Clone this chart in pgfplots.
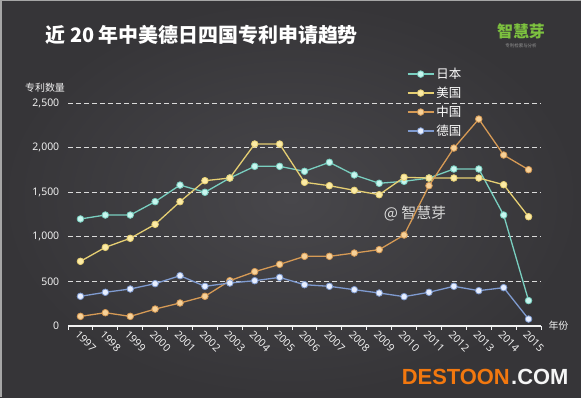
\documentclass[border=0pt]{standalone}
\usepackage{pgfplots}
\pgfplotsset{compat=1.18}
\usepackage{fontspec}
\setmainfont{Noto Sans}
\newfontfamily\cjk{Noto Sans CJK SC}
\newfontfamily\wm{Liberation Sans}
\definecolor{bg}{HTML}{363538}
\definecolor{bgc}{HTML}{48474B}
\definecolor{tealL}{HTML}{79CFC0}
\definecolor{tealF}{HTML}{C8F6EF}
\definecolor{yelL}{HTML}{E6CF73}
\definecolor{yelF}{HTML}{FCEBA6}
\definecolor{orL}{HTML}{D69A55}
\definecolor{orF}{HTML}{F7D198}
\definecolor{blL}{HTML}{7F9BD0}
\definecolor{blF}{HTML}{E8EFFF}
\definecolor{logo}{HTML}{7DC23F}
\definecolor{wmor}{HTML}{F2780F}
\begin{document}
\begin{tikzpicture}[x=1bp,y=1bp]
\useasboundingbox (0,0) rectangle (581,397);
\shade[inner color=bgc, outer color=bg] (0,0) rectangle (581,397);
\draw[gray!70, line width=1.5bp] (0.75,0) -- (0.75,396.25) -- (581,396.25);
\node[anchor=west, text=white, font=\cjk\bfseries\fontsize{20}{24}\selectfont] at (42,362) {近 20 年中美德日四国专利申请趋势};
\node[text=logo, font=\cjk\bfseries\fontsize{16}{19}\selectfont] at (521,366) {智慧芽};
\node[text=gray!80, font=\cjk\fontsize{4.5}{5}\selectfont] at (521,351) {专利检索与分析};
\node[text=white!90!gray, font=\cjk\fontsize{10}{12}\selectfont] at (45,309) {专利数量};
\node[text=white!70!gray, font=\cjk\fontsize{15}{18}\selectfont] at (415,184) {@ 智慧芽};
\node[text=white!90!gray, font=\cjk\fontsize{10}{12}\selectfont, anchor=west] at (545,71) {年份};
\begin{axis}[
  at={(68bp,71bp)}, anchor=south west,
  scale only axis, width=473bp, height=223bp,
  xmin=1996.5, xmax=2015.5, ymin=0, ymax=2500,
  clip=false,
  axis x line*=bottom, axis y line*=left,
  x axis line style={-, draw=white!88!gray, line width=1.2bp},
  y axis line style={draw=none},
  xtick={1997,...,2015},
  major x tick style={draw=none},
  minor xtick={1996.5,1997.5,...,2015.5},
  minor x tick style={draw=white!88!gray, line width=1bp},
  minor tick length=4bp,
  tick align=outside,
  ytick={0,500,...,2500},
  major y tick style={draw=none},
  ymajorgrids,
  grid style={draw=white!72!gray, dash pattern=on 4.5bp off 3.5bp, line width=1bp},
  /pgf/number format/assume math mode=true,
  yticklabel style={/pgf/number format/1000 sep={,}, font=\fontsize{10.5}{12}\selectfont, text=white!88!gray, xshift=-1bp},
  xticklabel style={/pgf/number format/1000 sep={}, rotate=-45, anchor=west, font=\fontsize{10.5}{12}\selectfont, text=white!88!gray, xshift=-4bp, yshift=-4bp},
  legend style={at={(0.71,1.175)}, anchor=north west, draw=none, fill=none, text=white, font=\cjk\fontsize{12.5}{14}\selectfont, row sep=3bp, /tikz/every even column/.append style={column sep=11bp}},
  legend cell align=left,
  legend image code/.code={
    \draw[#1, mark=none] (0bp,0bp) -- (26bp,0bp);
    \draw[#1, only marks] plot coordinates {(13bp,0bp)};},
  every axis plot/.append style={line width=1.3bp, mark=*, mark size=3.3bp},
]
\addplot[tealL, mark options={fill=tealF, draw=tealL, line width=0.8bp}] coordinates {
(1997,1200)(1998,1244)(1999,1244)(2000,1394)(2001,1580)(2002,1499)(2003,1659)(2004,1790)(2005,1790)(2006,1734)(2007,1835)(2008,1693)(2009,1600)(2010,1622)(2011,1659)(2012,1760)(2013,1760)(2014,1244)(2015,285)};
\addlegendentry{日本}
\addplot[yelL, mark options={fill=yelF, draw=yelL, line width=0.8bp}] coordinates {
(1997,725)(1998,882)(1999,983)(2000,1140)(2001,1394)(2002,1629)(2003,1659)(2004,2040)(2005,2040)(2006,1611)(2007,1573)(2008,1521)(2009,1472)(2010,1667)(2011,1659)(2012,1659)(2013,1659)(2014,1584)(2015,1225)};
\addlegendentry{美国}
\addplot[orL, mark options={fill=orF, draw=orL, line width=0.8bp}] coordinates {
(1997,108)(1998,149)(1999,108)(2000,190)(2001,258)(2002,333)(2003,508)(2004,609)(2005,691)(2006,781)(2007,781)(2008,818)(2009,856)(2010,1020)(2011,1573)(2012,1995)(2013,2320)(2014,1917)(2015,1752)};
\addlegendentry{中国}
\addplot[blL, mark options={fill=blF, draw=blL, line width=0.8bp}] coordinates {
(1997,333)(1998,378)(1999,415)(2000,475)(2001,564)(2002,445)(2003,482)(2004,508)(2005,545)(2006,463)(2007,445)(2008,407)(2009,370)(2010,329)(2011,378)(2012,445)(2013,396)(2014,430)(2015,78)};
\addlegendentry{德国}
\end{axis}
\node[anchor=east, font=\wm\bfseries\fontsize{22}{25}\selectfont, text=wmor, inner sep=0pt] at (510,20) {DESTOON};
\node[anchor=west, font=\wm\bfseries\fontsize{22}{25}\selectfont, text=white!92!gray, inner sep=0pt] at (511,20) {.COM};
\end{tikzpicture}
\end{document}
